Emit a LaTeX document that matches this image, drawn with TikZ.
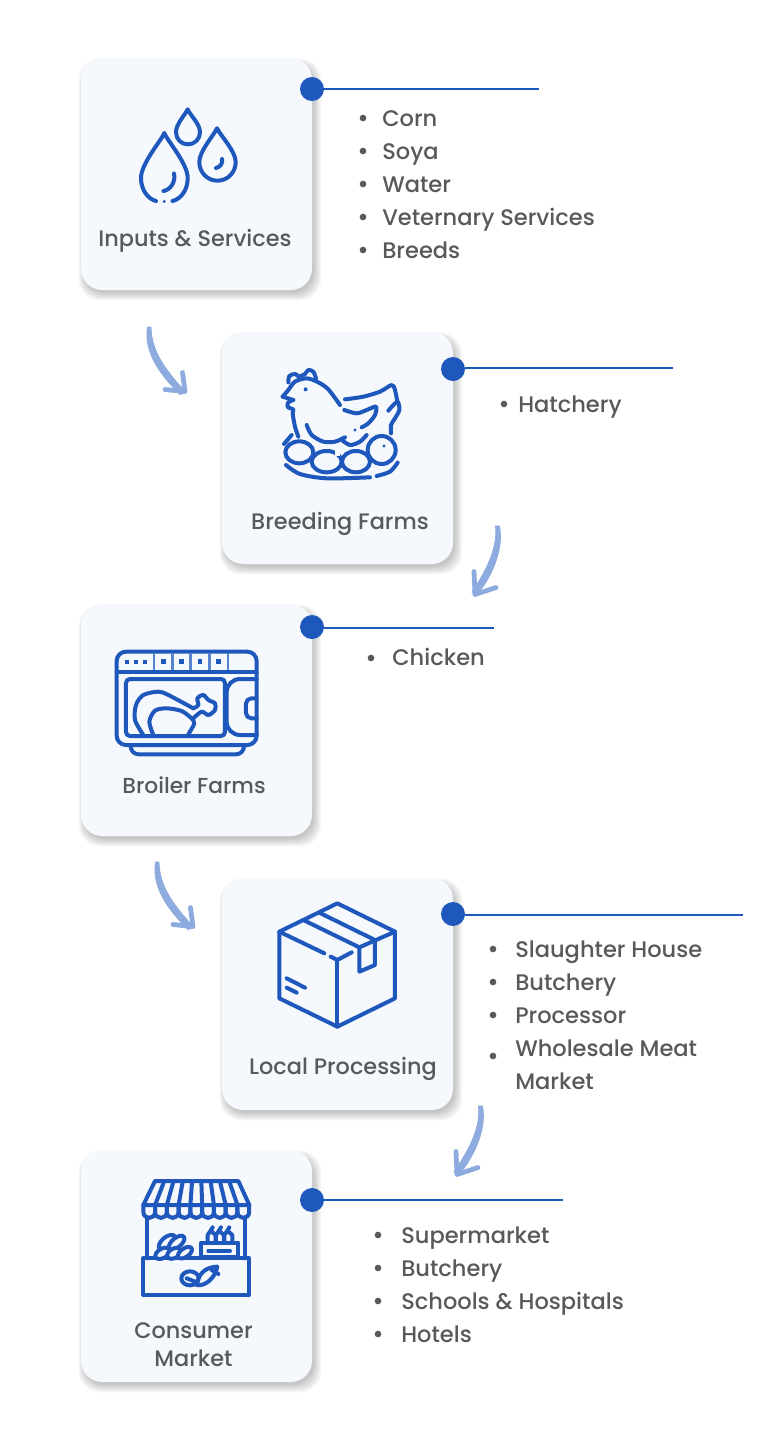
\documentclass[tikz,border=0pt]{standalone}
\usepackage{fontspec}
\setmainfont{Poppins}[UprightFont=* Medium]
\usetikzlibrary{backgrounds}
\definecolor{cardfill}{HTML}{F5F8FC}
\definecolor{iconblue}{HTML}{1F58BC}
\definecolor{arrowblue}{HTML}{8EABDF}
\definecolor{textgrey}{HTML}{58595B}
\tikzset{
  card/.style={rectangle,fill=cardfill,rounded corners=16pt,minimum width=173.25pt,minimum height=174pt,inner sep=0pt},
  dot/.style={circle,fill=iconblue,minimum size=18pt,inner sep=0pt},
  rule/.style={iconblue,line width=0.95pt},
  icon/.style={iconblue,line width=3pt,line cap=round,line join=round},
  head/.style={text=textgrey,font=\fontsize{16.8}{21}\selectfont,align=center,inner sep=0pt},
  item/.style={text=textgrey,font=\fontsize{16.9}{21}\selectfont,anchor=base west,inner sep=0pt},
  bul/.style={circle,fill=textgrey,minimum size=5pt,inner sep=0pt},
  sweep/.style={fill=arrowblue,draw=arrowblue,line width=0.6pt,line join=round},
  tip/.style={arrowblue,line width=3.6pt,line cap=round,line join=round},
}
\begin{document}
\begin{tikzpicture}[x=0.75pt,y=-0.75pt]
\useasboundingbox (0,0) rectangle (768,1440);
\node [card] (inputs) at (196.5,174) {};
\node [card] (breeding) at (337.5,448) {};
\node [card] (broiler) at (196.5,720) {};
\node [card] (local) at (337.5,994) {};
\node [card] (consumer) at (196.5,1266) {};
\begin{scope}[on background layer]
\foreach \n in {inputs,breeding,broiler,local,consumer}
  \foreach \g in {0,...,7}
    \fill [black,opacity=0.03,rounded corners=16pt] ([shift={(-2+\g*0.8,1+\g*0.8)}]\n.north west) rectangle ([shift={(9-\g*1.1,10-\g*1.1)}]\n.south east);
\end{scope}

\node [dot] (dota) at (312,89) {};
\node [dot] (dotb) at (453,369) {};
\node [dot] (dotc) at (312,627) {};
\node [dot] (dotd) at (453,914) {};
\node [dot] (dote) at (312,1200) {};
\coordinate (enda) at (539,89);
\coordinate (endb) at (673,368);
\coordinate (endc) at (494,628);
\coordinate (endd) at (743,915);
\coordinate (ende) at (563,1200);
\draw [rule] (dota) -- (enda);
\draw [rule] (dotb.east |- endb) -- (endb);
\draw [rule] (dotc.east |- endc) -- (endc);
\draw [rule] (dotd.east |- endd) -- (endd);
\draw [rule] (dote) -- (ende);

\node [head] (heada) at (195,240.5) {Inputs \& Services};
\node [head] (headb) at (340,523.5) {Breeding Farms};
\node [head,font=\fontsize{16.3}{21}\selectfont] (headc) at (194,785) {Broiler Farms};
\node [head] (headd) at (343,1068.5) {Local Processing};
\node [head] (heade) at (193.5,1345) {Consumer\\Market};

\foreach \y/\t in {126/Corn,159/Soya,192/Water,225/Veternary Services,258/Breeds} {
  \node [item] (a\y) at (382,\y) {\t};
  \node [bul] (ba\y) at (363,\y-8) {};
}
\node [item] (b1) at (518,412) {Hatchery};
\node [bul] (bb1) at (504,404) {};
\node [item] (c1) at (392,665) {Chicken};
\node [bul] (bc1) at (371,658) {};
\foreach \y/\t in {957/Slaughter House,990/Butchery,1023/Processor} {
  \node [item] (d\y) at (515,\y) {\t};
  \node [bul] (bd\y) at (493,\y-8) {};
}
\node [item] (d1056) at (515,1056) {Wholesale Meat};
\node [bul] (bd1056) at (493,1056) {};
\node [item] (d1089) at (515,1089) {Market};
\foreach \y/\t in {1243/Supermarket,1276/Butchery,1309/Schools \& Hospitals,1342/Hotels} {
  \node [item] (e\y) at (401,\y) {\t};
  \node [bul] (be\y) at (378,\y-8) {};
}

\coordinate (sa) at (149.5,327);
\coordinate (ta) at (186,392.5);
\coordinate (sc) at (157.5,862);
\coordinate (tc) at (194,927.5);
\coordinate (sb) at (497.5,526);
\coordinate (tb) at (474,595.5);
\coordinate (sd) at (480.5,1106);
\coordinate (td) at (456,1175.5);
\foreach \s/\e in {sa/ta,sc/tc} {
  \fill [sweep] ([shift={(1.5,0)}]\s) .. controls ([shift={(2,26)}]\s) and ([shift={(-19,-21)}]\e) .. (\e) -- ([shift={(-6,2)}]\e) .. controls ([shift={(-25,-17)}]\e) and ([shift={(-6,26)}]\s) .. ([shift={(-2,0)}]\s) -- cycle;
  \draw [tip] ([shift={(-3.5,-20)}]\e) -- ([shift={(-1,-1)}]\e) -- ([shift={(-21,-3)}]\e);
}
\foreach \s/\e in {sb/tb,sd/td} {
  \fill [sweep] ([shift={(2,0)}]\s) .. controls ([shift={(7,26)}]\s) and ([shift={(15,-15)}]\e) .. ([shift={(3,-1)}]\e) -- ([shift={(-2,-3)}]\e) .. controls ([shift={(7,-18)}]\e) and ([shift={(1,26)}]\s) .. ([shift={(-2,0)}]\s) -- cycle;
  \draw [tip] ([shift={(0,-24)}]\e) -- ([shift={(1,-1)}]\e) -- ([shift={(22,-8)}]\e);
}

% drops
\begin{scope}[icon]
\draw (164.3,133.3) .. controls (160,142) and (141,164) .. (141,178) .. controls (141,190) and (148,199) .. (156,201);
\draw (172.5,201) .. controls (181,199) and (187.7,190) .. (187.7,178) .. controls (187.7,164) and (168.5,142) .. (164.3,133.3);
\fill [iconblue] (164.3,201.5) circle (1.6);
\draw (174,173.5) .. controls (176,182) and (170,190) .. (163.5,191);
\draw (187.7,109.3) .. controls (185,115) and (176,124) .. (176,132) .. controls (176,139) and (181,144.3) .. (187.7,144.3) .. controls (195,144.3) and (200,139) .. (200,132) .. controls (200,124) and (190,115) .. (187.7,109.3) -- cycle;
\draw (217,128.3) .. controls (214,135) and (199.3,151) .. (199.3,162) .. controls (199.3,172) and (207,180.7) .. (217.5,180.7) .. controls (228,180.7) and (235.7,172) .. (235.7,162) .. controls (235.7,151) and (220,135) .. (217,128.3) -- cycle;
\draw (222,159) .. controls (223,164) and (220,167) .. (216,168);
\end{scope}

% hen
\begin{scope}[icon,shift={(260,350)},scale=0.3333]
\draw plot [smooth] coordinates {(85,97) (88,78) (105,72) (118,82)};
\draw plot [smooth] coordinates {(122,78) (135,72) (145,60) (160,65) (168,85)};
\draw plot [smooth] coordinates {(240,165) (205,118) (175,97) (140,85) (105,95) (85,120) (68,140)};
\draw (68,140) -- (100,150);
\draw plot [smooth] coordinates {(100,150) (84,158) (84,172) (100,178) (98,190) (105,230) (115,260)};
\fill [iconblue] (137,118) circle (6);
\draw plot [smooth] coordinates {(255,148) (310,140) (360,125) (395,105) (405,120) (412,155)};
\draw plot [smooth] coordinates {(385,182) (412,155) (418,180) (405,205) (393,225) (393,250)};
\draw plot [smooth] coordinates {(253,180) (290,190) (320,180) (348,170) (345,195) (325,220) (305,232)};
\fill [iconblue] (285,240) circle (5);
\draw plot [smooth] coordinates {(140,225) (155,255) (190,275) (225,275) (255,262)};
\draw plot [smooth] coordinates {(243,268) (270,285) (300,275) (320,255)};
\filldraw [fill=cardfill] (200,335) ellipse [x radius=45,y radius=32];
\filldraw [fill=cardfill] (288,335) ellipse [x radius=42,y radius=32];
\filldraw [fill=cardfill] (365,300) circle (42);
\filldraw [fill=cardfill] (118,307) ellipse [x radius=42,y radius=33];
\fill [cardfill] (225,290) rectangle (240,318);
\fill [iconblue] (372,288) circle (5);
\draw (72,282) -- (95,255);
\draw plot [smooth] coordinates {(78,345) (120,372) (200,385) (330,382)};
\draw plot [smooth] coordinates {(350,378) (390,365) (413,338)};
\end{scope}

% oven
\begin{scope}[icon,shift={(100,640)},scale=0.3333]
\draw [rounded corners=7pt] (50,35) rectangle (470,315);
\draw (50,95) -- (470,95);
\foreach \x in {82,108,135} \fill [iconblue] (\x-6,60) rectangle (\x+6,72);
\foreach \x in {190,245,300,356} \fill [iconblue] (\x-7,58) rectangle (\x+7,72);
\foreach \x in {162,217,272,328,384} \draw [iconblue!75,line width=2pt,line cap=butt] (\x,40) -- (\x,90);
\draw [rounded corners=3pt] (78,117) rectangle (375,288);
\draw [rounded corners=10pt] (470,117) -- (380,117) -- (380,285) -- (470,285);
\draw [rounded corners=4pt] (470,175) -- (438,175) -- (438,235) -- (470,235);
\draw [rounded corners=6pt] (92,315) -- (92,343) -- (432,343) -- (432,315);
\draw plot [smooth] coordinates {(130,285) (105,240) (108,195) (130,165) (175,155) (205,165) (280,205)};
\draw plot [smooth] coordinates {(280,205) (295,195) (292,175) (310,165) (325,180) (345,190) (345,210) (325,225) (305,215) (280,235)};
\draw plot [smooth] coordinates {(160,285) (148,245) (165,212) (200,205) (245,213) (275,235)};
\draw plot [smooth] coordinates {(275,235) (283,250) (265,283)};
\end{scope}

% box
\begin{scope}[icon,shift={(260,890)},scale=0.3333]
\draw (232,40) -- (405,125) -- (405,325) -- (232,410) -- (58,325) -- (58,125) -- cycle;
\draw (232,210) -- (232,410);
\draw (58,125) -- (193,190);
\draw (212,200) -- (232,210) -- (275,187);
\draw (130,90) -- (298,172) -- (405,125);
\draw (178,68) -- (345,150);
\draw (298,172) -- (298,245) -- (345,225) -- (345,150);
\draw (80,265) -- (135,293);
\draw (80,293) -- (110,308);
\end{scope}

% market
\begin{scope}[icon,shift={(130,1170)},scale=0.3333]
\draw (40,105) -- (75,33) -- (325,33) -- (358,105) -- cycle;
\foreach \i in {1,...,8} \draw ({75+\i*27.8},33) -- ({40+\i*35.3},105);
\foreach \i in {0,...,8} \draw ({40+\i*35.3},105) -- ({40+\i*35.3},125) .. controls ({40+\i*35.3},150) and ({75.3+\i*35.3},150) .. ({75.3+\i*35.3},125) -- ({75.3+\i*35.3},105);
\draw (52,145) -- (52,265);
\draw (345,145) -- (345,265);
\draw (40,265) rectangle (358,375);
\draw (213,218) rectangle (325,262);
\draw (235,243) -- (300,243);
\foreach \x in {245,270,295} \draw (\x-12,218) -- (\x-12,195) -- (\x-3,182) -- (\x+3,172) (\x-3,182) -- (\x+12,195) -- (\x+12,218);
\filldraw [fill=cardfill,rotate around={40:(112,218)}] (112,218) ellipse [x radius=30,y radius=17];
\filldraw [fill=cardfill,rotate around={40:(140,218)}] (140,218) ellipse [x radius=28,y radius=14];
\filldraw [fill=cardfill,rotate around={30:(98,250)}] (98,250) ellipse [x radius=24,y radius=14];
\filldraw [fill=cardfill,rotate around={30:(132,250)}] (132,250) ellipse [x radius=22,y radius=14];
\filldraw [fill=cardfill,rotate around={35:(165,248)}] (165,248) ellipse [x radius=24,y radius=13];
\draw (180,325) ellipse [x radius=26,y radius=21];
\draw (200,345) .. controls (225,350) and (255,325) .. (262,290) .. controls (235,290) and (205,305) .. (200,345) -- cycle;
\draw (170,325) -- (195,335);
\draw (245,300) -- (265,312);
\end{scope}
\end{tikzpicture}
\end{document}
